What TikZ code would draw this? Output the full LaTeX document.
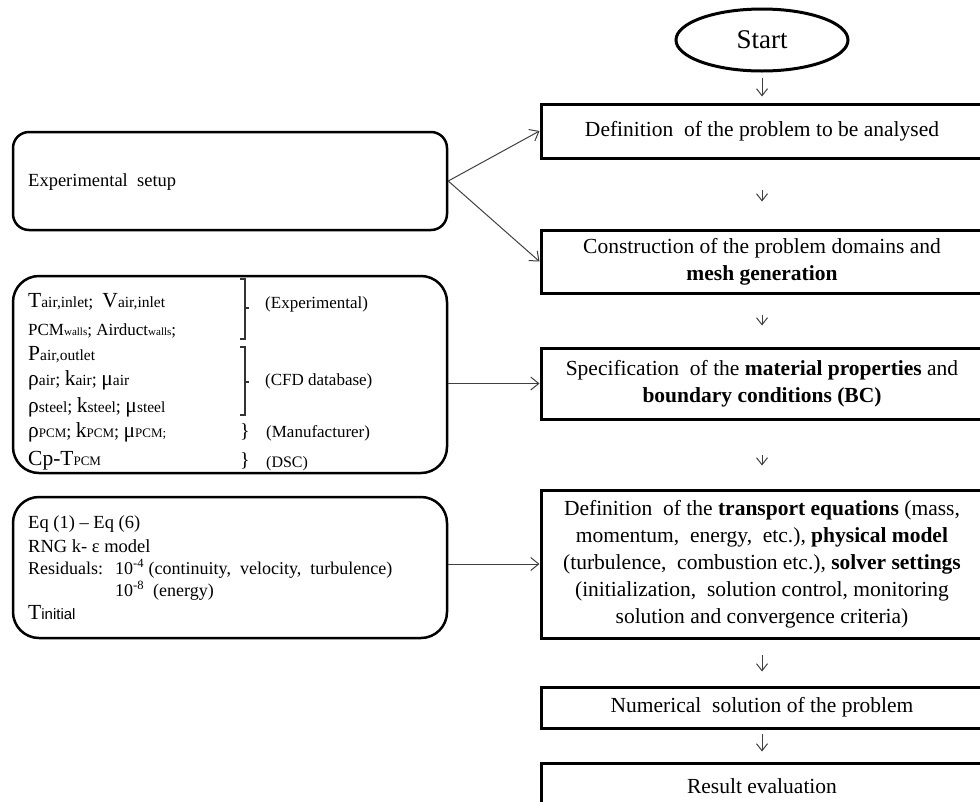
\documentclass[tikz,border=0pt]{standalone}
\usepackage{fontspec}
\setmainfont{Liberation Serif}
\setsansfont{Liberation Sans}
\usetikzlibrary{shapes.geometric}
\usetikzlibrary{arrows.meta}

\newcommand{\subtxt}[1]{{\fontsize{15.5}{15.5}\selectfont #1}}
\newcommand{\subpcm}[1]{{\fontsize{13}{13}\selectfont #1}}
\newcommand{\bigsym}[1]{{\fontsize{21.5}{21.5}\selectfont #1}}

\tikzset{
  startnode/.style={draw, ellipse, line width=3pt, minimum width=172pt, minimum height=62pt, inner sep=0pt, font=\fontsize{27}{27}\selectfont},
  stepbox/.style={draw, line width=3pt, minimum width=442pt, inner sep=0pt, align=center, font=\fontsize{21.5}{27}\selectfont},
  inbox/.style={draw, line width=2.5pt, minimum width=434pt, inner sep=0pt},
  flowarr/.style={draw=black!75, line width=1pt, -{Straight Barb[length=7pt,width=11pt]}},
  sidearr/.style={draw=black!75, line width=1pt, -{Straight Barb[length=8pt,width=13pt]}},
  ptxt/.style={anchor=base west, inner sep=0pt, font=\fontsize{18}{18}\selectfont},
  srctxt/.style={anchor=base west, inner sep=0pt, font=\fontsize{17}{17}\selectfont},
  brk/.style={draw=black!80, line width=1.2pt}
}

\begin{document}
\begin{tikzpicture}[x=1pt,y=-1pt]
\useasboundingbox (0,0) rectangle (980,801);
\clip (0,0) rectangle (980,801);

% main flow
\node[startnode] (start) at (762,40) {Start};
\node[stepbox, minimum height=54pt] (def) at (762,131) {Definition\ \ of the problem to be analysed};
\node[stepbox, minimum height=63pt] (mesh) at (762,261.5) {Construction of the problem domains and\\\textbf{mesh generation}};
\node[stepbox, minimum height=71pt] (bc) at (762,383.5) {Specification\ \ of the \textbf{material properties} and\\\textbf{boundary conditions (BC)}};
\node[stepbox, minimum height=148pt] (eqs) at (762,564) {Definition\ \ of the \textbf{transport equations} (mass,\\momentum,\ \ energy,\ \ etc.), \textbf{physical model}\\(turbulence,\ \ combustion etc.), \textbf{solver settings}\\(initialization,\ \ solution control, monitoring\\solution and convergence criteria)};
\node[stepbox, minimum height=41pt] (solve) at (762,707.5) {Numerical\ \ solution of the problem};
\node[stepbox, minimum height=46pt] (result) at (762,786) {Result evaluation};

\draw[flowarr, shorten <=5pt, shorten >=6pt] (start) -- (def);
\draw[flowarr, shorten <=30pt, shorten >=27pt] (def) -- (mesh);
\draw[flowarr, shorten <=20pt, shorten >=21pt] (mesh) -- (bc);
\draw[flowarr, shorten <=34pt, shorten >=23pt] (bc) -- (eqs);
\draw[flowarr, shorten <=15pt, shorten >=14pt] (eqs) -- (solve);
\draw[flowarr, shorten <=4pt, shorten >=10pt] (solve) -- (result);

% inputs on the left
\node[inbox, rounded corners=16pt, minimum height=98pt] (setup) at (230,181) {};
\node[anchor=west, inner sep=0pt, font=\fontsize{18.5}{18.5}\selectfont] (setuptxt) at (28,182) {Experimental\ \ setup};

\node[inbox, rounded corners=26pt, minimum height=197pt] (props) at (230,374.5) {};
\node[ptxt] (tin) at (28,307) {\bigsym{T}\subtxt{air,inlet}; \ \bigsym{V}\subtxt{air,inlet}};
\node[ptxt, font=\fontsize{17}{17}\selectfont] (walls) at (28,335) {PCM{\fontsize{11}{11}\selectfont walls}; Airduct{\fontsize{11}{11}\selectfont walls};};
\node[ptxt] (pout) at (28,360) {\bigsym{P}\subtxt{air,outlet}};
\node[ptxt] (air) at (28,385) {\bigsym{ρ}\subtxt{air}; \bigsym{k}\subtxt{air}; \bigsym{μ}\subtxt{air}};
\node[ptxt] (steel) at (28,412) {\bigsym{ρ}\subtxt{steel}; \bigsym{k}\subtxt{steel}; \bigsym{μ}\subtxt{steel}};
\node[ptxt] (pcm) at (28,437) {\bigsym{ρ}\subpcm{PCM}; \bigsym{k}\subpcm{PCM}; \bigsym{μ}\subpcm{PCM;}};
\node[ptxt] (cp) at (28,465) {\bigsym{Cp-T}\subpcm{PCM}};

% brackets and sources
\draw[brk] (240,279) -- (245,279) -- (245,339) -- (240,339);
\draw[brk] (245,308) -- (249,308);
\draw[brk] (240,347) -- (245,347) -- (245,415) -- (240,415);
\draw[brk] (245,382) -- (249,382);
\node[srctxt] (srcexp) at (265,308) {(Experimental)};
\node[srctxt] (srccfd) at (265,385) {(CFD database)};
\node[srctxt, font=\fontsize{20}{20}\selectfont] (br3) at (240,437) {\}};
\node[srctxt] (srcman) at (266,437) {(Manufacturer)};
\node[srctxt, font=\fontsize{20}{20}\selectfont] (br4) at (240,466) {\}};
\node[srctxt, font=\fontsize{16}{16}\selectfont] (srcdsc) at (266,467) {(DSC)};

\node[inbox, rounded corners=26pt, minimum height=141pt] (solver) at (230,567.5) {};
\node[ptxt, font=\fontsize{18.5}{18.5}\selectfont] (eqref) at (28,528) {Eq (1) – Eq (6)};
\node[ptxt, font=\fontsize{18.5}{18.5}\selectfont] (rng) at (28,552) {RNG k- ε model};
\node[ptxt] (resid) at (28,574) {Residuals:};
\node[ptxt] (res4) at (115,574) {10\textsuperscript{-4} (continuity,\ \ velocity,\ \ turbulence)};
\node[ptxt] (res8) at (115,596) {10\textsuperscript{-8}\ \ (energy)};
\node[ptxt] (tini) at (28,619) {\bigsym{T}{\sffamily\fontsize{15}{15}\selectfont initial}};

% connections to the flow
\draw[sidearr] (setup.east) -- (def.west);
\draw[sidearr] (setup.east) -- (mesh.west);
\draw[sidearr] (bc.west -| props.east) -- (bc.west);
\draw[sidearr] (eqs.west -| solver.east) -- (eqs.west);
\end{tikzpicture}
\end{document}
